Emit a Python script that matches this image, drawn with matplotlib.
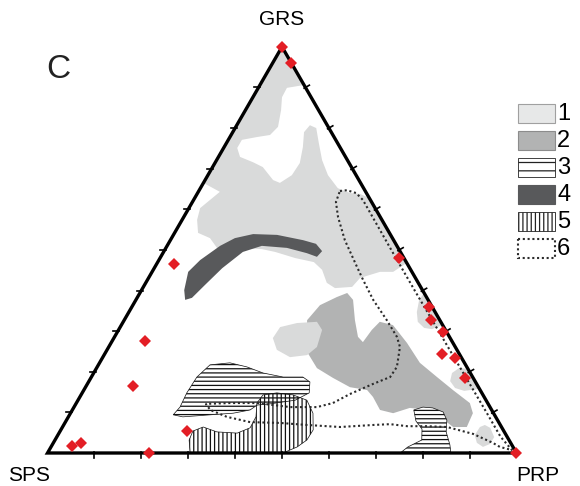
import numpy as np
import matplotlib
matplotlib.use("Agg")
import matplotlib.pyplot as plt
from matplotlib.patches import Polygon, Rectangle

plt.rcParams['font.family'] = ['Liberation Sans', 'DejaVu Sans']
plt.rcParams['hatch.linewidth'] = 0.9

# Compositions in mol %, given as (GRS, PRP); SPS is the remainder.
sample_grs = [100, 96, 46.5, 48, 36, 32.7, 29.9, 24.4, 23.5, 18.5,
              27.6, 16.6, 5.3, 1.8, 2.4, 0, 0]
sample_prp = [0, 4, 3.8, 51, 63.3, 65.4, 69.3, 71.9, 75.2, 79.8,
              7.0, 9.9, 27.0, 4.3, 5.9, 21.6, 100]

# field 1 - light grey
field_1_main = [
    (100, 0), (90.6, 9.4), (89.9, 6.1), (87.6, 6.2), (84.4, 7.6), (80.3, 9.0),
    (78.3, 8.3), (77.8, 5.8), (77.1, 2.9), (75.1, 2.9), (72.9, 4.6), (71.6, 8.0),
    (70.4, 10.7), (67.2, 14.5), (66.5, 16.3), (68.4, 17.9), (71.4, 18.1),
    (75.3, 16.8), (79.0, 15.2), (80.7, 15.6), (80.0, 17.3), (76.3, 19.7),
    (72.1, 22.5), (68.4, 25.6), (65.2, 29.3), (64.0, 32.5), (63.8, 34.7),
    (62.8, 37.2), (46.8, 53.2), (44.6, 51.4), (44.6, 48.6), (43.1, 45.1),
    (40.9, 44.5), (40.6, 41.0), (41.9, 38.6), (45.1, 36.0), (47.0, 33.3),
    (48.0, 28.8), (49.5, 23.8), (50.2, 20.6), (50.5, 15.8), (48.7, 12.9),
    (52.9, 8.2), (54.2, 5.0), (57.4, 3.2), (60.3, 2.4), (64.3, 4.6), (66.5, 0),
]
field_1_edge = [(39.4, 60.6), (31.5, 68.5), (30.5, 66.7), (30.8, 64.9),
                (32.3, 62.8), (34.7, 61.4), (37.7, 60.4)]
field_1_lower = [(20.7, 79.3), (15.8, 84.2), (15.3, 81.2), (16.0, 78.9),
                 (17.7, 77.0), (19.7, 76.4), (20.9, 77.3)]
field_1_corner = [(6.4, 89.0), (4.4, 88.9), (2.5, 90.3), (1.5, 92.1),
                  (2.2, 93.2), (3.9, 93.3), (6.2, 91.3), (6.9, 89.8)]
field_1_centre = [(28.3, 33.9), (31.0, 34.1), (32.0, 37.2), (32.3, 41.3),
                  (30.3, 43.4), (26.1, 44.4), (24.1, 43.3), (23.6, 39.9),
                  (25.4, 36.2)]

# field 2 - medium grey
field_2 = [
    (32.7, 39.0), (36.4, 39.9), (38.4, 42.5), (39.4, 44.2), (37.7, 46.3),
    (32.7, 49.2), (28.6, 51.9), (27.3, 53.6), (30.3, 54.0), (32.3, 54.7),
    (31.5, 57.9), (27.1, 63.1), (22.2, 68.3), (18.7, 73.7), (15.5, 78.7),
    (12.3, 83.9), (9.8, 85.8), (6.4, 86.2), (6.4, 83.3), (8.9, 79.2),
    (10.6, 75.6), (11.1, 71.7), (9.8, 68.8), (10.6, 65.6), (13.8, 62.5),
    (15.5, 60.4), (16.2, 56.4), (18.5, 51.6), (20.9, 47.0), (24.6, 43.2),
    (28.6, 41.0),
]

# field 3 - horizontal hatch
field_3_left = [
    (21.7, 23.8), (22.2, 27.8), (21.2, 31.9), (19.7, 36.1), (18.7, 40.9),
    (18.7, 45.1), (17.5, 47.2), (14.8, 48.4), (13.0, 46.3), (12.1, 41.4),
    (11.8, 38.8), (10.6, 37.9), (9.8, 34.7), (9.4, 30.0), (8.9, 24.4),
    (9.4, 22.1), (11.3, 22.6), (14.8, 22.3), (18.7, 22.5),
]
field_3_right = [
    (10.6, 72.8), (11.3, 74.4), (11.1, 76.6), (10.1, 79.3), (8.1, 81.1),
    (5.2, 82.4), (2.0, 84.8), (0, 86.0), (0, 75.2), (1.5, 76.1), (3.2, 78.2),
    (5.9, 76.9), (7.9, 74.6),
]

# field 4 - dark grey
field_4 = [
    (40.1, 9.1), (44.6, 7.7), (47.5, 8.8), (51.0, 11.3), (52.9, 13.5),
    (53.9, 16.9), (53.7, 22.1), (52.4, 28.3), (51.5, 31.5), (49.7, 33.7),
    (48.3, 33.3), (49.2, 30.7), (50.5, 25.8), (51.0, 20.2), (49.5, 16.9),
    (45.5, 14.5), (41.4, 12.9), (38.2, 11.7), (37.7, 10.5),
]

# field 5 - vertical hatch
field_5 = [
    (0, 30.4), (3.2, 28.6), (5.4, 28.3), (6.4, 30.0), (5.2, 33.5), (4.9, 38.0),
    (6.2, 40.1), (8.9, 40.0), (12.3, 38.5), (14.3, 38.8), (14.8, 41.5),
    (14.3, 45.2), (13.0, 48.8), (9.8, 51.7), (5.7, 53.8), (3.2, 53.7),
    (1.5, 52.5), (0, 50.2),
]

# field 6 - dotted outline
field_6 = [
    (64.5, 30.1), (64.7, 31.5), (64.0, 33.8), (62.3, 36.1), (50, 48.3),
    (40, 58.3), (30, 68.4), (20, 78.5), (10, 88.6), (4, 94.6), (0.7, 98.7),
    (1.5, 95.7), (2.5, 93.7), (4.7, 88.4), (6.4, 82.0), (6.6, 77.6),
    (6.6, 73.4), (7.1, 69.5), (6.9, 66.0), (6.4, 59.2), (6.9, 51.9),
    (7.4, 45.9), (7.6, 39.4), (8.9, 33.8), (10.6, 29.4), (12.1, 27.7),
    (12.3, 32.8), (12.3, 38.5), (11.3, 46.1), (11.3, 51.8), (12.3, 54.7),
    (14.5, 57.2), (17.0, 60.9), (18.7, 63.7), (21.2, 63.9), (26.1, 62.1),
    (28.6, 60.2), (32.7, 56.0), (37.7, 50.6), (42.6, 46.0), (45.8, 43.1),
    (52.4, 37.2), (58.1, 32.9), (61.8, 30.6),
]

corner_labels = ["GRS", "SPS", "PRP"]
legend_labels = ["1", "2", "3", "4", "5", "6"]

LIGHT = "#d9dada"
MEDIUM = "#b2b3b3"
DARK = "#58595b"
RED = "#e31e25"
SQ3 = np.sqrt(3) / 2


def to_xy(points):
    """(GRS, PRP) percentages -> cartesian position in the unit triangle."""
    arr = np.asarray(points, dtype=float) / 100.0
    grs, prp = arr[:, 0], arr[:, 1]
    return np.column_stack([prp + grs / 2, grs * SQ3])


fig = plt.figure(figsize=(5.8, 4.86), dpi=100)
ax = fig.add_axes([0, 0, 1, 1])
ax.set_xlim(-47.5 / 469, 532.5 / 469)
ax.set_ylim(-33 / 469, 453 / 469)
ax.axis("off")

for shape in [field_1_main, field_1_edge, field_1_lower, field_1_corner]:
    ax.add_patch(Polygon(to_xy(shape), closed=True, facecolor=LIGHT,
                         edgecolor="none", zorder=1))
ax.add_patch(Polygon(to_xy(field_2), closed=True, facecolor=MEDIUM,
                     edgecolor="none", zorder=2))
ax.add_patch(Polygon(to_xy(field_1_centre), closed=True, facecolor=LIGHT,
                     edgecolor="none", zorder=2.5))
ax.add_patch(Polygon(to_xy(field_4), closed=True, facecolor=DARK,
                     edgecolor="none", joinstyle="round", zorder=3))

# hatched fields: white ground first, then the line patterns on top
for shape in [field_3_left, field_3_right, field_5]:
    ax.add_patch(Polygon(to_xy(shape), closed=True, facecolor="white",
                         edgecolor="none", zorder=4))
for shape in [field_3_left, field_3_right]:
    ax.add_patch(Polygon(to_xy(shape), closed=True, fill=False, hatch="----",
                         edgecolor="#111111", lw=0.5, zorder=5))
ax.add_patch(Polygon(to_xy(field_5), closed=True, fill=False, hatch="||||",
                     edgecolor="#111111", lw=0.5, zorder=5))

ax.add_patch(Polygon(to_xy(field_6), closed=True, fill=False,
                     edgecolor="#2b2b2b", lw=1.5, linestyle=(0, (1, 1.3)),
                     zorder=6))

# triangle frame with 10 % ticks
frame = to_xy([(0, 0), (0, 100), (100, 0)])
ax.add_patch(Polygon(frame, closed=True, fill=False, edgecolor="black",
                     lw=2.4, joinstyle="miter", zorder=7))
out_len, in_len = 4.5 / 469, 1.5 / 469
for t in range(10, 100, 10):
    bx, by = to_xy([(0, t)])[0]
    ax.plot([bx, bx], [by + in_len, by - out_len], color="black", lw=1.2,
            zorder=7)
    lx, ly = to_xy([(t, 0)])[0]
    ax.plot([lx + in_len, lx - out_len], [ly, ly], color="black", lw=1.2,
            zorder=7)
    rx, ry = to_xy([(t, 100 - t)])[0]
    ax.plot([rx - in_len * SQ3, rx + out_len * SQ3],
            [ry - in_len / 2, ry + out_len / 2], color="black", lw=1.2,
            zorder=7)

pts = to_xy(list(zip(sample_grs, sample_prp)))
ax.plot(pts[:, 0], pts[:, 1], linestyle="none", marker="D", ms=6.5,
        color=RED, markeredgewidth=0, zorder=8, clip_on=False)

fig.text(282 / 580, 1 - 25 / 486, corner_labels[0], ha="center",
         va="baseline", fontsize=15)
fig.text(29 / 580, 1 - 481 / 486, corner_labels[1], ha="center",
         va="baseline", fontsize=15)
fig.text(538 / 580, 1 - 481 / 486, corner_labels[2], ha="center",
         va="baseline", fontsize=15)
fig.text(46 / 580, 1 - 78 / 486, "C", ha="left", va="baseline",
         fontsize=24, color="#222222")

# legend drawn in its own small pixel-scaled axes
lax = fig.add_axes([512 / 580, 1 - 270 / 486, 68 / 580, 170 / 486])
lax.set_xlim(0, 68)
lax.set_ylim(170, 0)
lax.axis("off")
styles = [
    dict(facecolor="#e7e8e8", edgecolor="#a0a0a0", lw=0.8),
    dict(facecolor=MEDIUM, edgecolor="#8c8c8c", lw=0.8),
    dict(facecolor="white", edgecolor="#222222", lw=0.6, hatch="--"),
    dict(facecolor=DARK, edgecolor=DARK, lw=0.8),
    dict(facecolor="white", edgecolor="#222222", lw=0.6, hatch="||||"),
    dict(facecolor="white", edgecolor="#2b2b2b", lw=1.5,
         linestyle=(0, (1, 1.3))),
]
for i, (label, style) in enumerate(zip(legend_labels, styles)):
    top = 4 + i * 27
    lax.add_patch(Rectangle((6, top), 37, 19, **style))
    lax.text(45, top + 10, label, ha="left", va="center", fontsize=17)

fig.savefig("out.png", dpi=100)
